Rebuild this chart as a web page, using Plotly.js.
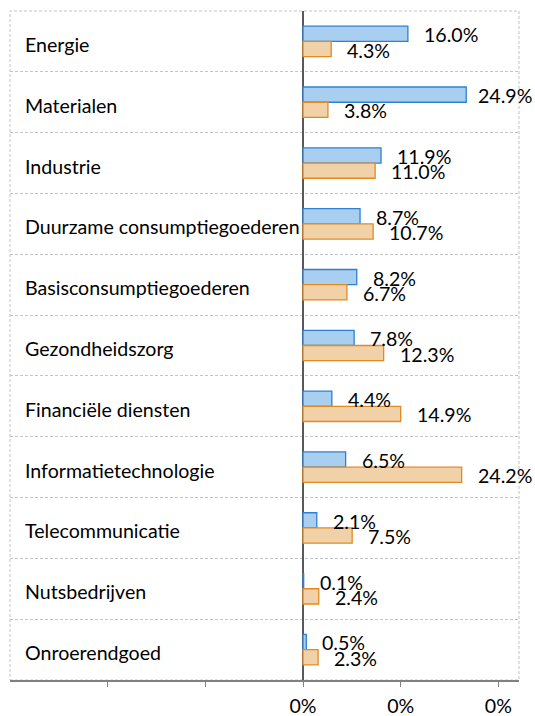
<!DOCTYPE html>
<html>
<head>
<meta charset="utf-8">
<script src="https://cdn.plot.ly/plotly-3.0.1.min.js"></script>
<style>
  html, body { margin: 0; padding: 0; background: #ffffff; }
  #chart { width: 535px; height: 716px; }
</style>
</head>
<body>
<div id="chart"></div>
<script>
// ---- data ----
const categories = [
  'Energie', 'Materialen', 'Industrie', 'Duurzame consumptiegoederen',
  'Basisconsumptiegoederen', 'Gezondheidszorg', 'Financiële diensten',
  'Informatietechnologie', 'Telecommunicatie', 'Nutsbedrijven', 'Onroerendgoed'
];
const seriesBlue   = [16.0, 24.9, 11.9, 8.7, 8.2, 7.8, 4.4, 6.5, 2.1, 0.1, 0.5];
const seriesOrange = [4.3, 3.8, 11.0, 10.7, 6.7, 12.3, 14.9, 24.2, 7.5, 2.4, 2.3];
const xTickVals = [-29.8, -14.9, 0, 14.9, 29.8];
const xTickText = ['', '', '0%', '0%', '0%'];

// ---- styling ----
const FONT = 'Lato, "Open Sans", sans-serif';
const FS = 19.6;
const W = 535, H = 716;
const margin = {l: 10, r: 16, t: 11, b: 36};
const xRange = [-44.7, 32.95];
const labelGap = 14;

const ctx = document.createElement('canvas').getContext('2d');
ctx.font = FS + 'px Lato';
const plotW = W - margin.l - margin.r;
const pxPer = plotW / (xRange[1] - xRange[0]);

function fmt(v) { return v.toFixed(1) + '%'; }
function shiftFor(v) {
  const barEnd = margin.l + (v - xRange[0]) * pxPer;
  const w = ctx.measureText(fmt(v)).width + 4;
  let s = labelGap;
  if (barEnd + s + w > W - 1) s = (W - 1) - w - barEnd;
  return s;
}

const rowPx = (H - margin.t - margin.b) / categories.length;
const barOff = rowPx * 0.125;

const traces = [
  {
    type: 'bar', orientation: 'h', name: 'A',
    y: categories, x: seriesBlue,
    marker: {color: '#a9cff0', line: {color: '#2f80d0', width: 1.3}},
    hoverinfo: 'none'
  },
  {
    type: 'bar', orientation: 'h', name: 'B',
    y: categories, x: seriesOrange,
    marker: {color: '#f1d1a8', line: {color: '#e28a22', width: 1.3}},
    hoverinfo: 'none'
  }
];

const annotations = [];
categories.forEach((c, i) => {
  annotations.push({
    xref: 'paper', yref: 'y', x: 0, y: c, xanchor: 'left', yanchor: 'middle',
    xshift: 13, yshift: -3, text: c, showarrow: false,
    font: {family: FONT, size: FS, color: '#000'}
  });
  annotations.push({
    xref: 'x', yref: 'y', x: seriesBlue[i], y: c, xanchor: 'left', yanchor: 'middle',
    xshift: shiftFor(seriesBlue[i]), yshift: barOff - 1, text: fmt(seriesBlue[i]), showarrow: false,
    font: {family: FONT, size: FS, color: '#000'}
  });
  annotations.push({
    xref: 'x', yref: 'y', x: seriesOrange[i], y: c, xanchor: 'left', yanchor: 'middle',
    xshift: shiftFor(seriesOrange[i]), yshift: -barOff - 1, text: fmt(seriesOrange[i]), showarrow: false,
    font: {family: FONT, size: FS, color: '#000'}
  });
});

const layout = {
  width: W, height: H,
  margin: margin,
  paper_bgcolor: '#ffffff', plot_bgcolor: '#ffffff',
  showlegend: false,
  barmode: 'group', bargap: 0.5, bargroupgap: 0,
  font: {family: FONT, size: FS, color: '#000'},
  xaxis: {
    range: xRange, tickvals: xTickVals, ticktext: xTickText,
    showgrid: false, zeroline: true, zerolinecolor: '#595959', zerolinewidth: 1.2,
    showline: true, linecolor: '#808080', linewidth: 1.6,
    ticks: 'outside', ticklen: 5, tickcolor: '#808080', tickwidth: 1,
    ticklabelstandoff: 3,
    tickfont: {family: FONT, size: FS, color: '#000'},
    fixedrange: true
  },
  yaxis: {
    type: 'category', autorange: 'reversed',
    showticklabels: false, ticks: '', showline: false, zeroline: false,
    showgrid: true, tickson: 'boundaries', gridcolor: '#c4c4c4', griddash: '3px,2px', gridwidth: 1,
    fixedrange: true
  },
  shapes: [{
    type: 'rect', xref: 'paper', yref: 'paper', x0: 0, x1: 1, y0: 0, y1: 1,
    line: {color: '#c4c4c4', width: 1, dash: '3px,2px'}, layer: 'below'
  }],
  annotations: annotations
};

Plotly.newPlot('chart', traces, layout, {staticPlot: true, displayModeBar: false});
</script>
</body>
</html>
